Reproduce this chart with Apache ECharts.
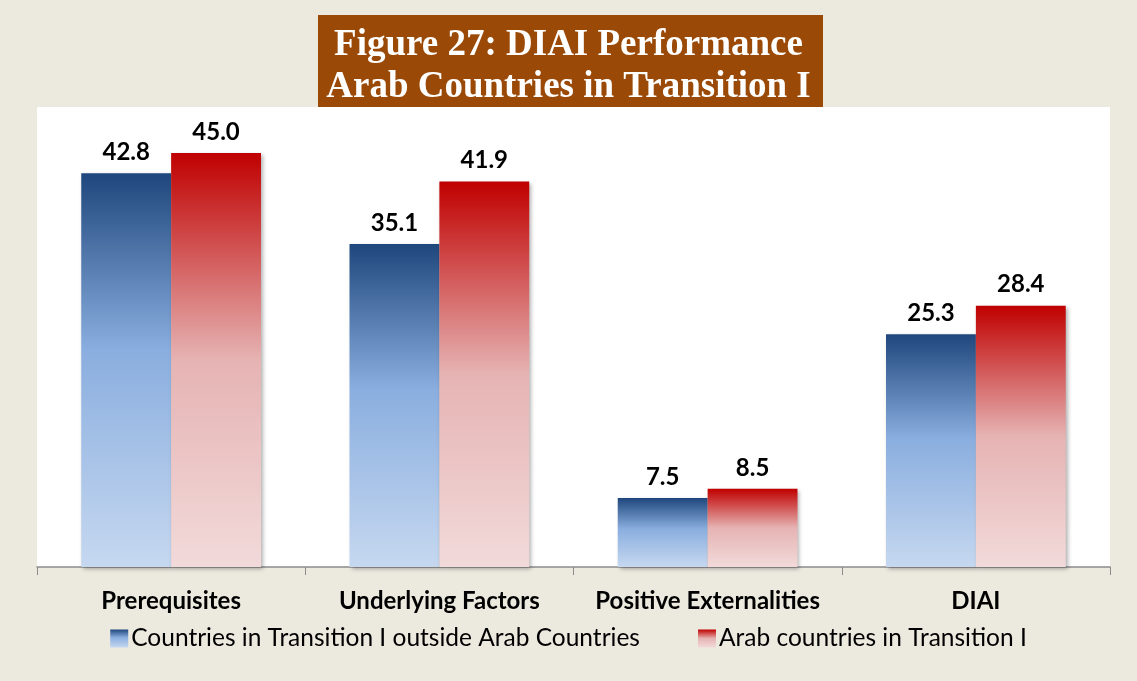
<!DOCTYPE html>
<html>
<head>
<meta charset="utf-8">
<script src="https://cdn.jsdelivr.net/npm/echarts@6/dist/echarts.min.js"></script>
<style>
  html, body { margin: 0; padding: 0; background: #ECE9DF; }
  #chart { width: 1137px; height: 681px; }
</style>
</head>
<body>
<div id="chart"></div>
<script>
var categories = ["Prerequisites", "Underlying Factors", "Positive Externalities", "DIAI"];
var outsideArab = [42.8, 35.1, 7.5, 25.3];
var arabCountries = [45.0, 41.9, 8.5, 28.4];
var seriesNames = ["Countries in Transition I outside Arab Countries", "Arab countries in Transition I"];

var chart = echarts.init(document.getElementById("chart"));

function grad(stops) {
  return new echarts.graphic.LinearGradient(0, 0, 0, 1, stops);
}
var blue = grad([
  { offset: 0, color: "#1F477D" },
  { offset: 0.45, color: "#8AAEDF" },
  { offset: 1, color: "#C6D8F0" }
]);
var red = grad([
  { offset: 0, color: "#C00000" },
  { offset: 0.5, color: "#E6B3B3" },
  { offset: 1, color: "#F2DADA" }
]);

var labelStyle = {
  show: true,
  position: "top",
  distance: 9,
  fontFamily: "Lato",
  fontWeight: "bold",
  fontSize: 24,
  color: "#000",
  formatter: function (p) { return p.value.toFixed(1); }
};

var option = {
  backgroundColor: "#ECE9DF",
  animation: false,
  title: {
    text: "Figure 27: DIAI Performance\nArab Countries in Transition I",
    left: "center",
    top: 19,
    textStyle: {
      fontFamily: "Liberation Serif",
      fontWeight: "bold",
      fontSize: 37,
      lineHeight: 42,
      color: "#fff"
    }
  },
  graphic: [{
    type: "rect",
    z: -1,
    shape: { x: 318, y: 15, width: 505, height: 93 },
    style: { fill: "#9A4906" }
  }],
  legend: {
    bottom: 25,
    left: "center",
    itemWidth: 18,
    itemHeight: 18,
    itemGap: 58,
    icon: "rect",
    textStyle: { fontFamily: "Lato", fontSize: 24.5, color: "#000", padding: [0, 0, 0, -2] },
    data: seriesNames
  },
  grid: {
    left: 37,
    right: 27,
    top: 107,
    bottom: 114,
    show: true,
    backgroundColor: "#fff",
    borderWidth: 0,
    z: 0
  },
  xAxis: {
    type: "category",
    data: categories,
    axisLine: { lineStyle: { color: "#8C8C8C", width: 1.5 } },
    axisTick: { show: true, interval: 0, length: 8, lineStyle: { color: "#8C8C8C" } },
    axisLabel: {
      interval: 0,
      margin: 22,
      fontFamily: "Lato",
      fontWeight: "bold",
      fontSize: 24,
      color: "#000"
    }
  },
  yAxis: {
    type: "value",
    min: 0,
    max: 50,
    show: false,
    splitLine: { show: false }
  },
  series: [
    {
      name: seriesNames[0],
      type: "bar",
      data: outsideArab,
      barGap: "0%",
      barCategoryGap: "33%",
      itemStyle: {
        color: blue,
        shadowColor: "rgba(0,0,0,0.3)",
        shadowBlur: 4,
        shadowOffsetX: 2,
        shadowOffsetY: 2
      },
      label: labelStyle
    },
    {
      name: seriesNames[1],
      type: "bar",
      data: arabCountries,
      itemStyle: {
        color: red,
        shadowColor: "rgba(0,0,0,0.3)",
        shadowBlur: 4,
        shadowOffsetX: 2,
        shadowOffsetY: 2
      },
      label: labelStyle
    }
  ]
};

chart.setOption(option);
</script>
</body>
</html>
